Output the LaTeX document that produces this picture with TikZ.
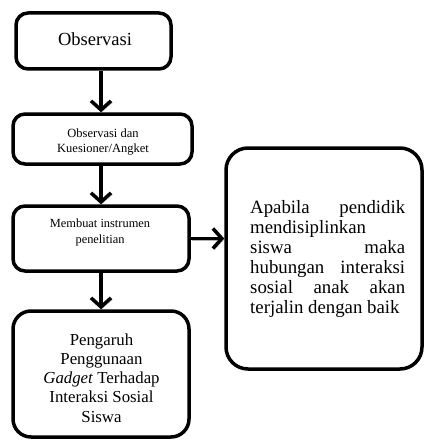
\documentclass[tikz,border=0pt]{standalone}
\usepackage{fontspec}
\setmainfont{Liberation Serif}
\usetikzlibrary{arrows.meta}
\begin{document}
\begin{tikzpicture}[x=1pt,y=-1pt,
  box/.style={draw=black, line width=3.5pt, rounded corners=12pt, fill=white, inner sep=0pt},
  flow/.style={line width=3.5pt, -{Straight Barb[length=9pt,width=20pt]},
    preaction={draw=black!30, transform canvas={shift={(1.5pt,-1.5pt)}}}},
  txt/.style={inner sep=0pt, align=center}]
\useasboundingbox (0,0) rectangle (426,441);
\fill[white] (0,0) rectangle (426,441);
\node[box, minimum width=155pt, minimum height=56pt] (b1) at (93.5,41) {};
\node[txt, font=\fontsize{18.5}{21}\selectfont] (t1) at (95,39) {Observasi};
\node[box, minimum width=179pt, minimum height=50pt] (b2) at (102.5,139) {};
\node[txt, font=\fontsize{12.5}{15.5}\selectfont] (t2) at (103,142) {Observasi dan\\Kuesioner/Angket};
\node[box, minimum width=176pt, minimum height=65pt] (b3) at (101,238.5) {};
\node[txt, font=\fontsize{12.4}{16}\selectfont] (t3) at (100,233) {Membuat instrumen\\penelitian};
\node[box, rounded corners=18pt, minimum width=176pt, minimum height=126pt] (b4) at (101,374) {};
\node[txt, font=\fontsize{16.8}{19.2}\selectfont] (t4) at (101.5,378) {Pengaruh\\Penggunaan\\\textit{Gadget} Terhadap\\Interaksi Sosial\\Siswa};
\node[box, rounded corners=22pt, minimum width=196pt, minimum height=221pt] (rb) at (324,258.5) {};
\node[inner sep=0pt, anchor=north west] (tr) at (250,200.5) {\fontsize{18.8}{20}\selectfont\vbox{\hsize=155pt
  \hbox to\hsize{Apabila\hfill pendidik}
  \hbox{mendisiplinkan}
  \hbox to\hsize{siswa\hfill maka}
  \hbox to\hsize{hubungan\hfill interaksi}
  \hbox to\hsize{sosial\hfill anak\hfill akan}
  \hbox{terjalin dengan baik}}};
\draw[flow] (b1.south -| b3) -- (b2.north -| b3);
\draw[flow] (b2.south -| b3) -- (b3.north);
\draw[flow] (b3.south) -- (b4.north);
\draw[flow] (b3.east) -- (b3.east -| rb.west);
\end{tikzpicture}
\end{document}
